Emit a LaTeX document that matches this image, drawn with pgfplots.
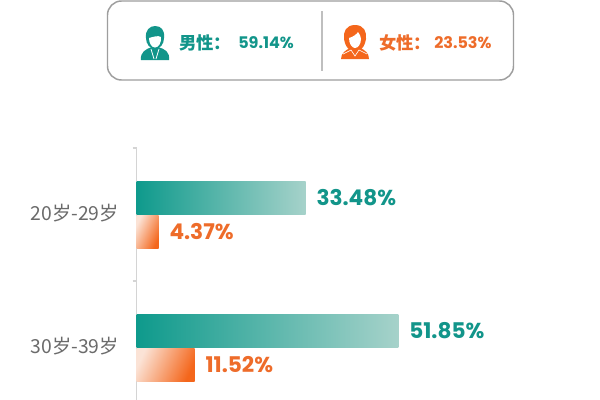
\documentclass[border=0pt]{standalone}
\usepackage{pgfplots}
\pgfplotsset{compat=1.18}
\usepackage{fontspec}
\setmainfont{Noto Sans CJK SC}
\newfontfamily\pop{Poppins}
\newfontfamily\cjk{Noto Sans CJK SC}
\definecolor{teal1}{HTML}{0E9A8C}
\definecolor{teal2}{HTML}{A6D2CA}
\definecolor{teal3}{HTML}{12958A}
\definecolor{or1}{HTML}{F4661B}
\definecolor{or2}{HTML}{FBE3D6}
\definecolor{or3}{HTML}{EE6C2A}
\definecolor{axg}{HTML}{D4D4D4}
\pgfplotsset{
  malebar/.style={draw=none,left color=teal1,right color=teal2,bar shift=12.75pt,
    nodes near coords style={anchor=west,inner sep=0pt,xshift=8pt,text=teal3,font=\pop\bfseries\fontsize{16.2}{17}\selectfont}},
  femalebar/.style={draw=none,left color=or2,right color=or1,shading angle=65,bar shift=-12.75pt,
    nodes near coords style={anchor=west,inner sep=0pt,xshift=8pt,text=or3,font=\pop\bfseries\fontsize{16.2}{17}\selectfont}},
}
\begin{document}
\begin{tikzpicture}[x=0.75pt,y=-0.75pt]
\path[use as bounding box] (0,0) rectangle (600,400);
\fill[white] (0,0) rectangle (600,400);
% header box
\draw[color=black!38,line width=1.1pt,rounded corners=10.5pt] (107.5,1) rectangle (513.5,80);
\draw[color=black!25,line width=0.9pt] (322,11) -- (322,71);
% male icon
\fill[teal3] (141,60) .. controls (140,52) and (146,49) .. (152,47) -- (158,47) .. controls (165,49) and (170,52) .. (169,60) -- cycle;
\fill[teal3] (146,38) .. controls (145,30) and (150,26) .. (155,26) .. controls (161,26) and (165,30) .. (164,38) .. controls (164,44) and (160,49) .. (155,49) .. controls (150,49) and (146,44) .. (146,38) -- cycle;
\fill[white] (149,38) .. controls (153,37) and (158,35) .. (161,37) .. controls (161.5,43) and (158.5,47.5) .. (155,47.5) .. controls (151.5,47.5) and (149,43) .. (149,38) -- cycle;
\draw[white,line width=0.6pt] (151,49) -- (154,59) (159,49) -- (156,59);
% female icon
\fill[or1] (341,59) .. controls (341,53) and (346,50) .. (350,48) -- (360,48) .. controls (365,50) and (369,53) .. (369,59) -- cycle;
\fill[or1] (355,25) .. controls (346,25) and (343,32) .. (344,39) .. controls (345,45) and (347,48) .. (350,50) -- (360,50) .. controls (363,48) and (365,45) .. (366,39) .. controls (367,32) and (364,25) .. (355,25) -- cycle;
\fill[white] (349,38) .. controls (353,37) and (357,34) .. (358,32) .. controls (360,35) and (361,37) .. (361,39) .. controls (361,44) and (358,48) .. (355,48) .. controls (352,48) and (349,44) .. (349,38) -- cycle;
\draw[white,line width=0.5pt] (343,54) -- (351,50) -- (355,56) -- (359,50) -- (367,54);
% header text
\node[anchor=west,inner sep=0pt,text=teal3,font=\cjk\bfseries\fontsize{13}{14}\selectfont] at (179,43) {男性：};
\node[anchor=west,inner sep=0pt,text=teal3,font=\pop\bfseries\fontsize{12}{13}\selectfont] at (238,43) {59.14\%};
\node[anchor=west,inner sep=0pt,text=or3,font=\cjk\bfseries\fontsize{13}{14}\selectfont] at (379,43) {女性：};
\node[anchor=west,inner sep=0pt,text=or3,font=\pop\bfseries\fontsize{12}{13}\selectfont] at (434,43) {23.53\%};
\begin{axis}[
  at={(102.375pt,-111pt)},anchor=north west,
  scale only axis,width=347.625pt,height=189pt,
  xmin=0,xmax=91.78,ymin=-0.5,ymax=1.3947,
  y dir=reverse,
  axis x line=none,
  axis y line=left,
  axis line style={draw=axg,line width=0.8pt,-},
  ytick={0,1},yticklabels={20岁-29岁,30岁-39岁},
  major tick length=0pt,
  extra y ticks={-0.5,0.5},extra y tick labels={},
  extra y tick style={major tick length=3pt,tick style={draw=axg,line width=0.8pt}},
  yticklabel style={font=\cjk\fontsize{14.5}{15}\selectfont,text=black!58,inner sep=0pt,xshift=-13pt,yshift=0.7pt},
  clip=false,
  xbar,
  bar width=24.75pt,
  nodes near coords={\pgfmathprintnumber[fixed,fixed zerofill,precision=2,assume math mode=true]{\pgfplotspointmeta}\%},
  point meta=explicit,
]
\addplot[malebar] coordinates {(33.48,0)[33.48]};
\addplot[malebar] coordinates {(51.85,1)[51.85]};
\addplot[femalebar] coordinates {(4.37,0)[4.37]};
\addplot[femalebar] coordinates {(11.52,1)[11.52]};
\end{axis}
\end{tikzpicture}
\end{document}
